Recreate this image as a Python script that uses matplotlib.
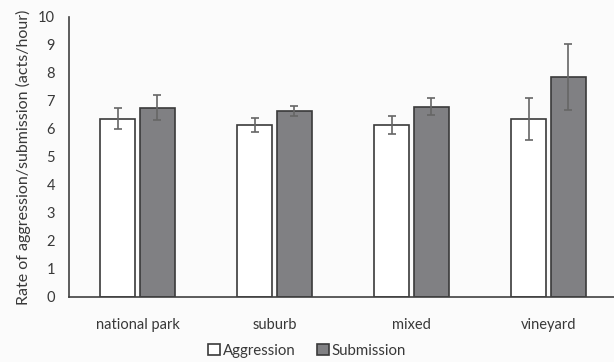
import numpy as np
import matplotlib.pyplot as plt

# habitat categories and mean rates (acts/hour) with error
habitats = ['national park', 'suburb', 'mixed', 'vineyard']
aggression = [6.37, 6.14, 6.14, 6.35]
aggression_err = [0.37, 0.25, 0.33, 0.76]
submission = [6.76, 6.65, 6.79, 7.86]
submission_err = [0.45, 0.18, 0.30, 1.18]

plt.rcParams['font.family'] = ['Lato', 'DejaVu Sans']

fig = plt.figure(figsize=(6.14, 3.62), dpi=100)
fig.patch.set_facecolor('#fbfbfb')
ax = fig.add_axes([69/614, 65/362, 548/614, 280/362])
ax.set_facecolor('#fbfbfb')

x = np.arange(len(habitats))
w = 0.255
off = 0.143
ax.bar(x - off, aggression, w, color='white', edgecolor='#3a3a3a', linewidth=1.2,
       label='Aggression', zorder=2)
ax.bar(x + off, submission, w, color='#808083', edgecolor='#3a3a3a', linewidth=1.2,
       label='Submission', zorder=2)
ax.errorbar(x - off, aggression, yerr=aggression_err, fmt='none', ecolor='#666666',
            elinewidth=1.2, capsize=3, capthick=1.2, zorder=3)
ax.errorbar(x + off, submission, yerr=submission_err, fmt='none', ecolor='#666666',
            elinewidth=1.2, capsize=3, capthick=1.2, zorder=3)

ax.set_xlim(-0.5, 3.5)
ax.set_ylim(0, 10)
ax.set_yticks(range(0, 11))
ax.set_xticks(x)
ax.set_xticklabels(habitats)
ax.tick_params(length=0, labelsize=10.5, labelcolor='#383838')
ax.tick_params(axis='x', pad=15)
ax.tick_params(axis='y', pad=10)
for s in ['top', 'right']:
    ax.spines[s].set_visible(False)
for s in ['left', 'bottom']:
    ax.spines[s].set_color('#404040')
    ax.spines[s].set_linewidth(1.2)

ax.set_ylabel('Rate of aggression/submission (acts/hour)', fontsize=11.5, color='#383838',
              labelpad=5)

fig.legend(loc='lower center', bbox_to_anchor=(0.5, -0.025), ncol=2, frameon=False,
           fontsize=10.8, handlelength=0.8, handleheight=0.8, handletextpad=0.2,
           columnspacing=1.4, labelcolor='#383838')

fig.savefig('out.png', dpi=100, facecolor=fig.get_facecolor())
